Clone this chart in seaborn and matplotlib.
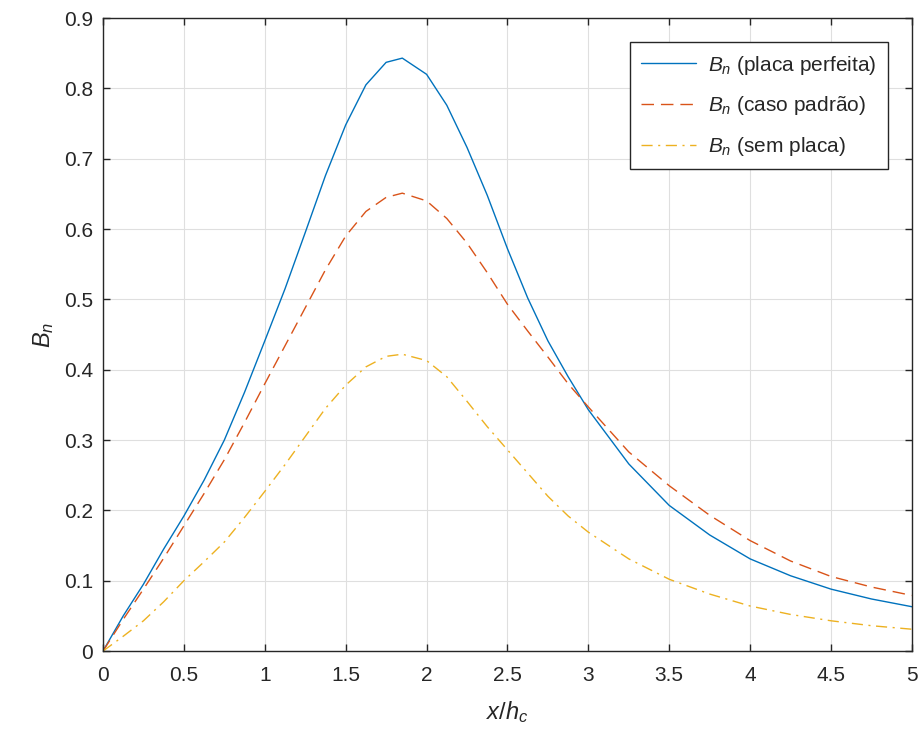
import matplotlib
matplotlib.use("Agg")
import matplotlib.pyplot as plt
import seaborn as sns
import pandas as pd

# ---- data ----
x_vals = [0, 0.125, 0.25, 0.375, 0.5, 0.625, 0.75, 0.875, 1.0, 1.125, 1.25, 1.375,
          1.5, 1.625, 1.75, 1.85, 2.0, 2.125, 2.25, 2.375, 2.5, 2.625, 2.75, 2.875,
          3.0, 3.25, 3.5, 3.75, 4.0, 4.25, 4.5, 4.75, 5.0]
bn_placa_perfeita = [0, 0.05, 0.095, 0.145, 0.192, 0.243, 0.30, 0.368, 0.441, 0.515,
                     0.595, 0.676, 0.748, 0.805, 0.837, 0.843, 0.82, 0.776, 0.716, 0.648,
                     0.572, 0.502, 0.441, 0.39, 0.343, 0.266, 0.207, 0.165, 0.131,
                     0.107, 0.088, 0.074, 0.063]
bn_caso_padrao = [0, 0.045, 0.088, 0.132, 0.178, 0.224, 0.272, 0.325, 0.38, 0.434,
                  0.488, 0.542, 0.59, 0.625, 0.645, 0.651, 0.64, 0.615, 0.58, 0.538,
                  0.493, 0.455, 0.418, 0.38, 0.347, 0.283, 0.235, 0.193, 0.157,
                  0.128, 0.106, 0.091, 0.079]
bn_sem_placa = [0, 0.021, 0.043, 0.07, 0.10, 0.127, 0.155, 0.19, 0.227, 0.265, 0.305,
                0.345, 0.378, 0.404, 0.419, 0.422, 0.413, 0.39, 0.355, 0.319, 0.286,
                0.253, 0.22, 0.192, 0.169, 0.131, 0.102, 0.081, 0.064, 0.052, 0.043,
                0.036, 0.031]
labels = [r'$B_n$ (placa perfeita)', r'$B_n$ (caso padrão)', r'$B_n$ (sem placa)']
x_ticks = [0, 0.5, 1, 1.5, 2, 2.5, 3, 3.5, 4, 4.5, 5]
y_ticks = [0, 0.1, 0.2, 0.3, 0.4, 0.5, 0.6, 0.7, 0.8, 0.9]

sns.set_style("whitegrid")
plt.rcParams['font.family'] = ['Liberation Sans', 'DejaVu Sans']
plt.rcParams['mathtext.fontset'] = 'custom'
plt.rcParams['mathtext.it'] = 'Liberation Sans:italic'
plt.rcParams['mathtext.rm'] = 'Liberation Sans'

fig = plt.figure(figsize=(9.23, 7.42), dpi=100)
ax = fig.add_axes([0.1116, 0.1226, 0.8764, 0.8531])

axis_color = '#262626'
series = [bn_placa_perfeita, bn_caso_padrao, bn_sem_placa]
colors = ['#0072BD', '#D95319', '#EDB120']
styles = ['-', (0, (9, 5)), (0, (8, 4, 1.5, 4))]
for yv, lab, c, ls in zip(series, labels, colors, styles):
    df = pd.DataFrame({'x': x_vals, 'y': yv})
    sns.lineplot(data=df, x='x', y='y', ax=ax, color=c, linewidth=1.0,
                 linestyle=ls, label=lab)

ax.set_xlim(0, 5)
ax.set_ylim(0, 0.9)
ax.set_xticks(x_ticks)
ax.set_xticklabels([f'{t:g}' for t in x_ticks])
ax.set_yticks(y_ticks)
ax.set_yticklabels([f'{t:g}' for t in y_ticks])
ax.grid(True, color='#dfdfdf', linewidth=0.8)
for s in ax.spines.values():
    s.set_color(axis_color)
    s.set_linewidth(1.0)
    s.set_visible(True)
ax.tick_params(direction='in', length=5, width=1.0, color=axis_color,
               labelcolor=axis_color, labelsize=15, top=True, right=True,
               left=True, bottom=True)
ax.tick_params(axis='x', pad=11)
ax.tick_params(axis='y', pad=7)
ax.set_xlabel(r'$x/h_c$', fontsize=17, color=axis_color, labelpad=10)
ax.set_ylabel(r'$B_n$', fontsize=17, color=axis_color, labelpad=6)

leg = ax.legend(loc='upper right', bbox_to_anchor=(1 - 0.0297, 1 - 0.038),
                borderaxespad=0, fontsize=15, frameon=True, fancybox=False,
                edgecolor=axis_color, framealpha=1, handlelength=2.6,
                handletextpad=0.6, borderpad=0.55, labelspacing=0.85)
leg.get_frame().set_linewidth(1.0)
for t in leg.get_texts():
    t.set_color(axis_color)

fig.savefig('out.png', dpi=100)
